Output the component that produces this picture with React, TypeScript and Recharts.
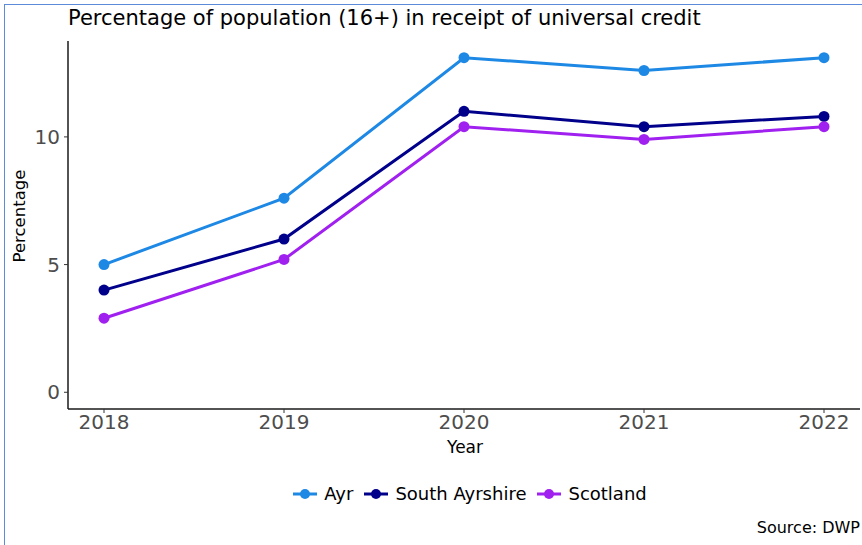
import React from 'react';
import { LineChart, Line, XAxis, YAxis } from 'recharts';

const years = [2018, 2019, 2020, 2021, 2022];
const ayr = [5.0, 7.6, 13.1, 12.6, 13.1];
const southAyrshire = [4.0, 6.0, 11.0, 10.4, 10.8];
const scotland = [2.9, 5.2, 10.4, 9.9, 10.4];
const yTicks = [0, 5, 10];

const SERIES = [
  { key: 'ayr', name: 'Ayr', color: '#1E88E5' },
  { key: 'southAyrshire', name: 'South Ayrshire', color: '#00008B' },
  { key: 'scotland', name: 'Scotland', color: '#A020F0' },
];

const data = years.map((year, i) => ({
  year,
  ayr: ayr[i],
  southAyrshire: southAyrshire[i],
  scotland: scotland[i],
}));

const FONT = '"DejaVu Sans", Verdana, sans-serif';

const LegendKey = ({ color }: { color: string }) => (
  <svg width={24} height={12} style={{ marginRight: 7 }}>
    <line x1={0} y1={6} x2={24} y2={6} stroke={color} strokeWidth={3} />
    <circle cx={12} cy={6} r={5} fill={color} />
  </svg>
);

export default function App() {
  return (
    <div
      style={{
        position: 'absolute',
        left: 0,
        top: 0,
        width: 862,
        height: 545,
        background: '#fff',
        fontFamily: FONT,
        overflow: 'hidden',
      }}
    >
      {/* frame */}
      <div style={{ position: 'absolute', left: 4, top: 4, width: 900, height: 600, border: '1.5px solid #5B8BD9', boxSizing: 'border-box' }} />
      <div style={{ position: 'absolute', left: 68, top: 6, fontSize: 21, color: '#000', whiteSpace: 'nowrap' }}>
        Percentage of population (16+) in receipt of universal credit
      </div>

      <LineChart width={862} height={545} data={data} margin={{ top: 41, right: 2, left: 0, bottom: 106 }}>
        <XAxis
          dataKey="year"
          type="number"
          domain={[2017.8, 2022.2]}
          ticks={years}
          allowDataOverflow
          height={30}
          stroke="#1a1a1a"
          strokeWidth={1.5}
          tickSize={4}
          tickMargin={2}
          tick={{ fill: '#4D4D4D', fontSize: 20, fontFamily: FONT }}
          tickLine={{ stroke: '#333', strokeWidth: 1 }}
        />
        <YAxis
          type="number"
          domain={[-0.655, 13.755]}
          ticks={yTicks}
          allowDataOverflow
          width={68}
          stroke="#1a1a1a"
          strokeWidth={1.5}
          tickSize={4}
          tickMargin={4}
          tick={{ fill: '#4D4D4D', fontSize: 20, fontFamily: FONT }}
          tickLine={{ stroke: '#333', strokeWidth: 1 }}
        />
        {SERIES.map((s) => (
          <Line
            key={s.key}
            dataKey={s.key}
            name={s.name}
            type="linear"
            stroke={s.color}
            strokeWidth={3}
            dot={{ r: 5.5, fill: s.color, stroke: s.color, strokeWidth: 0 }}
            activeDot={false}
            isAnimationActive={false}
          />
        ))}
      </LineChart>

      <div style={{ position: 'absolute', left: 465, top: 437, transform: 'translateX(-50%)', fontSize: 17, color: '#000' }}>Year</div>
      <div
        style={{
          position: 'absolute',
          left: 19,
          top: 216,
          transform: 'translate(-50%, -50%) rotate(-90deg)',
          fontSize: 16.5,
          color: '#000',
          whiteSpace: 'nowrap',
        }}
      >
        Percentage
      </div>

      <div
        style={{
          position: 'absolute',
          left: 0,
          width: 951,
          top: 483,
          display: 'flex',
          justifyContent: 'center',
          alignItems: 'center',
          fontSize: 18,
          color: '#000',
        }}
      >
        {SERIES.map((s) => (
          <div key={s.key} style={{ display: 'flex', alignItems: 'center', marginRight: 11 }}>
            <LegendKey color={s.color} />
            <span>{s.name}</span>
          </div>
        ))}
      </div>

      <div style={{ position: 'absolute', right: 2, top: 518, fontSize: 16, color: '#000' }}>Source: DWP</div>
    </div>
  );
}
